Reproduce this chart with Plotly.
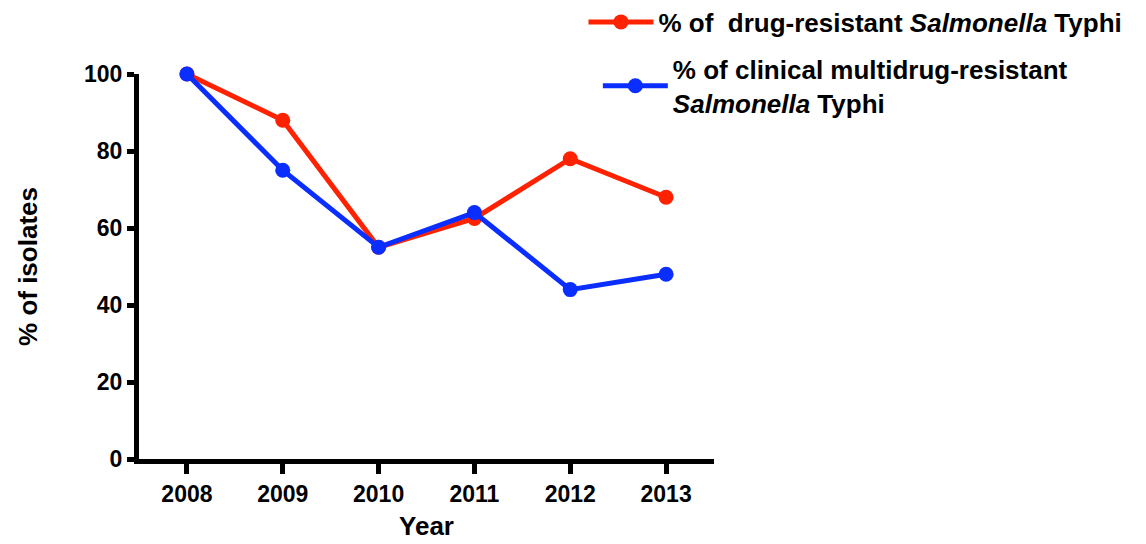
import plotly.graph_objects as go

years = [2008, 2009, 2010, 2011, 2012, 2013]
drug_resistant = [100, 88, 55, 62.5, 78, 68]
mdr = [100, 75, 55, 64, 44, 48]
y_ticks = [0, 20, 40, 60, 80, 100]

RED = "#FF2200"
BLUE = "#0A2EFF"
FONT = "Liberation Sans, Arial, sans-serif"

fig = go.Figure()
fig.add_trace(go.Scatter(
    x=years, y=drug_resistant, mode="lines+markers",
    name="% of\u00a0\u00a0drug-resistant <i>Salmonella</i> Typhi",
    line=dict(color=RED, width=5), marker=dict(color=RED, size=15),
    cliponaxis=False, legend="legend"))
fig.add_trace(go.Scatter(
    x=years, y=mdr, mode="lines+markers",
    name="% of clinical multidrug-resistant<br><i>Salmonella</i> Typhi",
    line=dict(color=BLUE, width=5), marker=dict(color=BLUE, size=15),
    cliponaxis=False, legend="legend2"))

legend_common = dict(font=dict(family=FONT, size=26, color="black", weight="bold"),
                     bgcolor="rgba(0,0,0,0)", itemwidth=65, tracegroupgap=0,
                     xanchor="left", yanchor="middle")
# page is rendered with an 8px body margin, so margins are reduced by 8px
fig.update_layout(
    width=1146, height=544,
    margin=dict(l=131, r=440, t=66, b=93, autoexpand=False),
    showlegend=True,
    plot_bgcolor="white", paper_bgcolor="white",
    font=dict(family=FONT, color="black"),
    legend=dict(x=0.773, y=1.135, **legend_common),
    legend2=dict(x=0.798, y=0.969, **legend_common),
    xaxis=dict(
        range=[2007.5, 2013.5], tickvals=years, ticktext=[str(y) for y in years],
        showline=True, linecolor="black", linewidth=5, showgrid=False, zeroline=False,
        ticks="outside", ticklen=10, tickwidth=5, tickcolor="black",
        tickfont=dict(family=FONT, size=23, color="black", weight="bold"),
        title=dict(text="Year", font=dict(family=FONT, size=26, color="black", weight="bold"), standoff=13),
    ),
    yaxis=dict(
        range=[0, 100], tickvals=y_ticks,
        showline=True, linecolor="black", linewidth=5, showgrid=False, zeroline=False,
        ticks="outside", ticklen=7, tickwidth=5, tickcolor="black",
        tickfont=dict(family=FONT, size=23, color="black", weight="bold"),
        title=dict(text="% of isolates", font=dict(family=FONT, size=26, color="black", weight="bold"), standoff=40),
    ),
)
fig.write_html("out.html")
